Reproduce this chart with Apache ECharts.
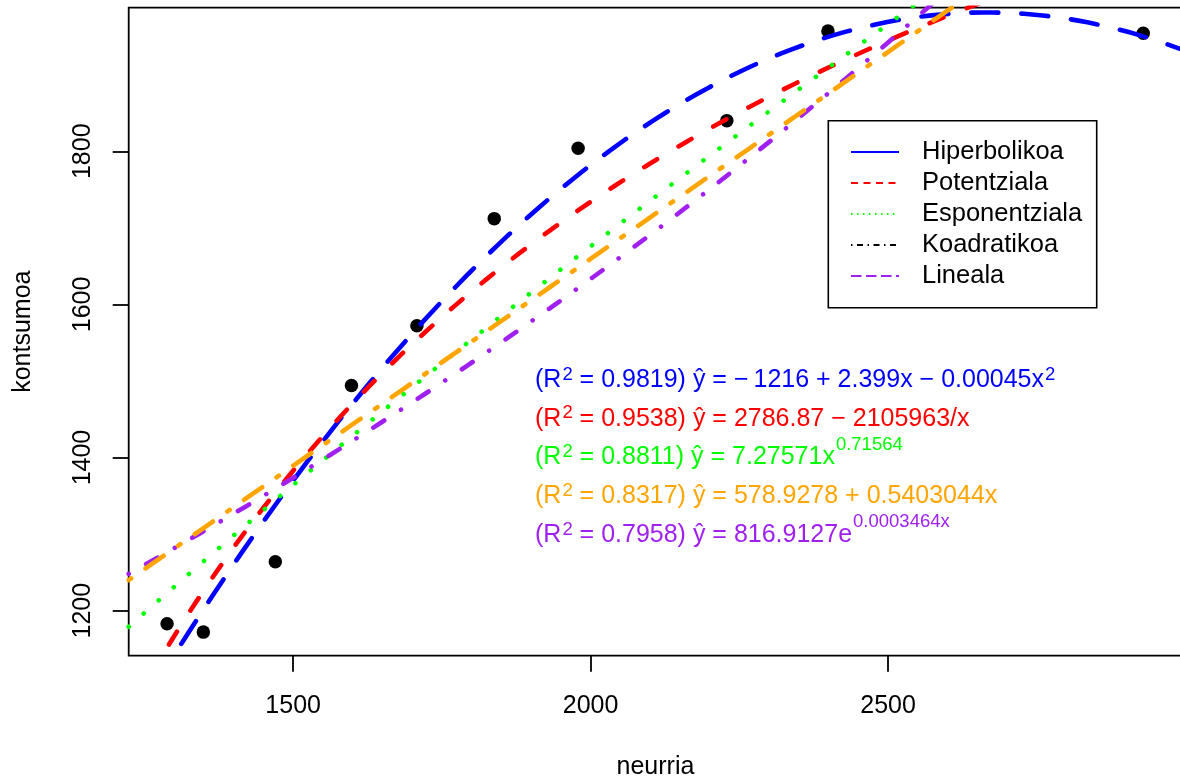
<!DOCTYPE html>
<html>
<head>
<meta charset="utf-8">
<script src="https://cdn.jsdelivr.net/npm/echarts@6/dist/echarts.min.js"></script>
<style>
  html, body { margin: 0; padding: 0; background: #fff; }
  #chart { width: 1180px; height: 778px; }
</style>
</head>
<body>
<div id="chart"></div>
<script>
// Observed points: size (neurria) and consumption (kontsumoa)
const neurria   = [1288, 1349, 1470, 1598, 1708, 1838, 1979, 2229, 2399, 2929];
const kontsumoa = [1183, 1172, 1264, 1494, 1572, 1712, 1804, 1840, 1957, 1954];

// Fitted model coefficients and their R^2
const quadCoef   = [-1216, 2.399, -0.00045];   // a + b x + c x^2
const hyperCoef  = [2786.87, -2105963];        // a + b / x
const powerCoef  = [7.27571, 0.71564];         // a x^b
const linearCoef = [578.9278, 0.5403044];      // a + b x
const expCoef    = [816.9127, 0.0003464];      // a e^(b x)
const r2Values   = [0.9819, 0.9538, 0.8811, 0.8317, 0.7958];

// Axes
const xTicks = [1500, 2000, 2500];
const yTicks = [1200, 1400, 1600, 1800];
const xRange = [1223.5, 2994.5];
const yRange = [1141.2, 1987.5];

// Legend entries
const legendNames = ['Hiperbolikoa', 'Potentziala', 'Esponentziala', 'Koadratikoa', 'Lineala'];

const FONT = '"Liberation Sans", Arial, Helvetica, sans-serif';
const BLUE = '#0000FF', RED = '#FF0000', GREEN = '#00FF00', ORANGE = '#FFA500', PURPLE = '#A020F0';

const models = [
  { color: BLUE,   dash: [27, 23],           f: x => quadCoef[0] + quadCoef[1] * x + quadCoef[2] * x * x },
  { color: RED,    dash: [15, 25],           f: x => hyperCoef[0] + hyperCoef[1] / x },
  { color: GREEN,  dash: [0.01, 20],         f: x => powerCoef[0] * Math.pow(x, powerCoef[1]) },
  { color: PURPLE, dash: [0.01, 20, 13, 20], f: x => expCoef[0] * Math.exp(expCoef[1] * x) },
  { color: ORANGE, dash: [3, 17.5, 22, 17.5], f: x => linearCoef[0] + linearCoef[1] * x }
];

// Each fitted curve evaluated across the whole x range of the plot
function curveData(f) {
  const n = 101, out = [];
  for (let i = 0; i < n; i++) {
    const x = xRange[0] + (xRange[1] - xRange[0]) * i / (n - 1);
    out.push([x, f(x)]);
  }
  return out;
}

const series = [{
  type: 'scatter',
  data: neurria.map((x, i) => [x, kontsumoa[i]]),
  symbol: 'circle',
  symbolSize: 13.5,
  itemStyle: { color: '#000', opacity: 1 },
  silent: true
}].concat(models.map(m => ({
  type: 'line',
  data: curveData(m.f),
  showSymbol: false,
  clip: true,
  silent: true,
  lineStyle: { color: m.color, width: 4.6, type: m.dash, cap: 'round', join: 'round', opacity: 1 }
})));

// Formula annotations, laid out piece by piece with superscripts
const measureCtx = document.createElement('canvas').getContext('2d');
function textWidth(str, size) {
  measureCtx.font = size + 'px ' + FONT;
  return measureCtx.measureText(str).width;
}
function mathText(parts, x0, baseline, color) {
  const els = [];
  let x = x0;
  parts.forEach(([str, kind]) => {
    const size = kind === 'n' ? 25 : 18.5;
    const rise = kind === 'n' ? 0 : (kind === 's' ? 7.5 : 15);
    if (kind !== 'n') x += 1;
    els.push({
      type: 'text', x: x, y: baseline - rise - 0.3465 * size, silent: true,
      style: { text: str, fontSize: size, fontFamily: FONT, fill: color, align: 'left', verticalAlign: 'middle' }
    });
    x += textWidth(str, size);
  });
  return els;
}
const T = '\u2009';
const formulaLines = [
  [BLUE,   [['(R', 'n'], ['2', 's'], [' = ' + r2Values[0] + ') ŷ = −' + T + Math.abs(quadCoef[0]) + ' + ' + quadCoef[1] + 'x − ' + Math.abs(quadCoef[2]) + 'x', 'n'], ['2', 's']]],
  [RED,    [['(R', 'n'], ['2', 's'], [' = ' + r2Values[1] + ') ŷ = ' + hyperCoef[0] + ' − ' + Math.abs(hyperCoef[1]) + '/x', 'n']]],
  [GREEN,  [['(R', 'n'], ['2', 's'], [' = ' + r2Values[2] + ') ŷ = ' + powerCoef[0] + 'x', 'n'], [String(powerCoef[1]), 'e']]],
  [ORANGE, [['(R', 'n'], ['2', 's'], [' = ' + r2Values[3] + ') ŷ = ' + linearCoef[0] + ' + ' + linearCoef[1] + 'x', 'n']]],
  [PURPLE, [['(R', 'n'], ['2', 's'], [' = ' + r2Values[4] + ') ŷ = ' + expCoef[0] + 'e', 'n'], [expCoef[1] + 'x', 'e']]]
];
let graphics = [];
formulaLines.forEach(([color, parts], i) => {
  graphics = graphics.concat(mathText(parts, 535, 388.5 + i * 38.8, color));
});

// Legend box
const legendStyles = [
  { color: BLUE,   dash: null },
  { color: RED,    dash: [7, 5.5] },
  { color: GREEN,  dash: [1.5, 4.5] },
  { color: '#000', dash: [1.5, 4.5, 6, 4.5] },
  { color: PURPLE, dash: [10.5, 4.5] }
];
graphics.push({
  type: 'rect', silent: true,
  shape: { x: 828.3, y: 120.7, width: 268.4, height: 187 },
  style: { fill: '#fff', stroke: '#000', lineWidth: 1.6 }
});
legendNames.forEach((name, i) => {
  const y = 152 + i * 31;
  graphics.push({
    type: 'line', silent: true,
    shape: { x1: 851, y1: y, x2: 899, y2: y },
    style: { stroke: legendStyles[i].color, lineWidth: 1.8, lineDash: legendStyles[i].dash }
  });
  graphics.push({
    type: 'text', silent: true, x: 922, y: y,
    style: { text: name, fontSize: 25.5, fontFamily: FONT, fill: '#000', align: 'left', verticalAlign: 'middle' }
  });
});

const axisText = { fontSize: 25, color: '#000', fontFamily: FONT };
const plainNumber = v => String(v);

const option = {
  animation: false,
  backgroundColor: '#fff',
  grid: {
    left: 128.7, top: 7.7, width: 1053.5, height: 648,
    outerBoundsMode: 'none', containLabel: false,
    show: true, borderColor: '#000', borderWidth: 1.8, backgroundColor: 'transparent'
  },
  xAxis: {
    type: 'value', min: xRange[0], max: xRange[1],
    axisLine: { show: false }, splitLine: { show: false },
    axisTick: { show: true, length: 16, customValues: xTicks, lineStyle: { color: '#000', width: 1.8 } },
    axisLabel: Object.assign({ customValues: xTicks, margin: 38, formatter: plainNumber }, axisText),
    name: 'neurria', nameLocation: 'middle', nameGap: 99, nameTextStyle: axisText
  },
  yAxis: {
    type: 'value', min: yRange[0], max: yRange[1],
    axisLine: { show: false }, splitLine: { show: false },
    axisTick: { show: true, length: 16, customValues: yTicks, lineStyle: { color: '#000', width: 1.8 } },
    axisLabel: Object.assign({ customValues: yTicks, margin: 33, rotate: 90, formatter: plainNumber }, axisText),
    name: 'kontsumoa', nameLocation: 'middle', nameRotate: 90, nameGap: 93, nameTextStyle: axisText
  },
  series: series,
  graphic: { elements: graphics }
};

const chart = echarts.init(document.getElementById('chart'), null, { renderer: 'canvas' });
chart.setOption(option);
</script>
</body>
</html>
